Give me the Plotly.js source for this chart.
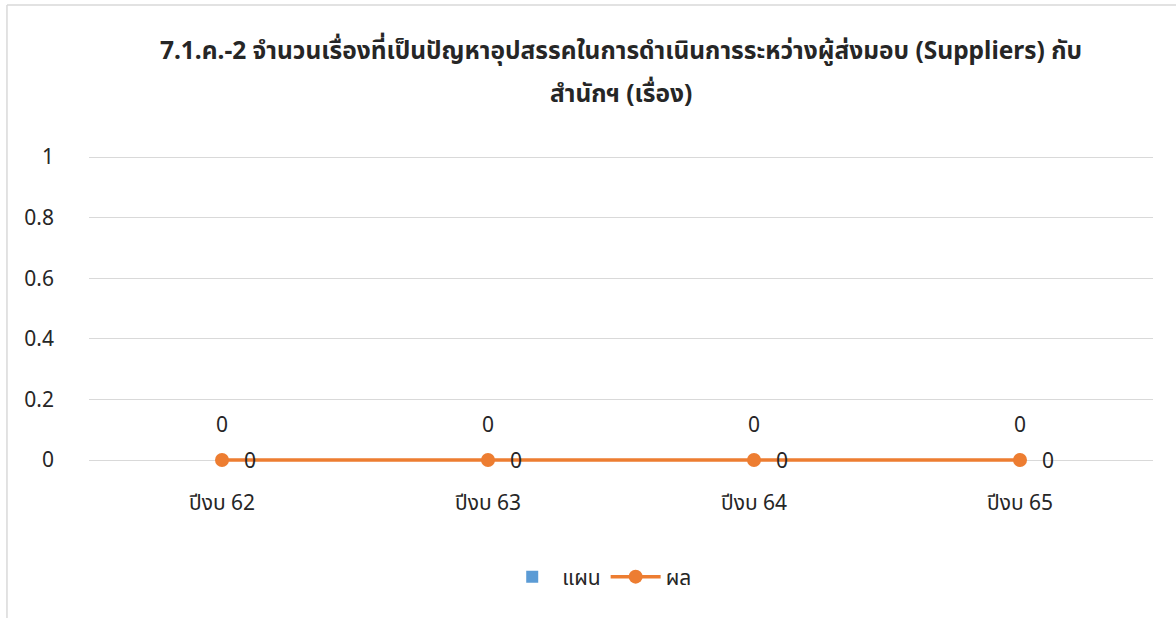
<!DOCTYPE html>
<html>
<head>
<meta charset="utf-8">
<script src="https://cdn.plot.ly/plotly-3.0.1.min.js"></script>
<style>html,body{margin:0;padding:0;background:#fff;}#chart{width:1176px;height:618px;}</style>
</head>
<body>
<div id="chart"></div>
<script>
const categories = ["ปีงบ 62", "ปีงบ 63", "ปีงบ 64", "ปีงบ 65"];
const planValues = [0, 0, 0, 0];
const resultValues = [0, 0, 0, 0];
const yTicks = [0, 0.2, 0.4, 0.6, 0.8, 1];
const yTickLabels = ["0", "0.2", "0.4", "0.6", "0.8", "1"];
const titleLine1 = "7.1.ค.-2 จำนวนเรื่องที่เป็นปัญหาอุปสรรคในการดำเนินการระหว่างผู้ส่งมอบ (Suppliers) กับ";
const titleLine2 = "สำนักฯ (เรื่อง)";

const FONT = "Noto Sans, Noto Sans Thai, sans-serif";
const txtColor = "#262626";
const FS = 21;
const TFS = 24.5;

// plot area: top 155px, bottom 466px (value 0 at 460px, value 1 at 157px)
const PLOT_BOTTOM = 466, PLOT_H = 311;
const py = p => (PLOT_BOTTOM - p) / PLOT_H;

const traces = [
  {
    type: "bar",
    name: "แผน",
    x: categories,
    y: planValues,
    marker: {color: "#5B9BD5"},
    width: 0.5
  },
  {
    type: "scatter",
    mode: "lines+markers",
    name: "ผล",
    x: categories,
    y: resultValues,
    line: {color: "#ED7D31", width: 3.5},
    marker: {color: "#ED7D31", size: 14},
    cliponaxis: false
  }
];

const annotations = [];
categories.forEach((c, i) => {
  annotations.push({x: c, y: planValues[i], text: String(planValues[i]), showarrow: false,
    yshift: 36, font: {family: FONT, size: FS, color: txtColor}});
  annotations.push({x: c, y: resultValues[i], text: String(resultValues[i]), showarrow: false,
    xshift: 28, font: {family: FONT, size: FS, color: txtColor}});
});
annotations.push({xref: "paper", yref: "paper", x: 0.5, y: py(92), yanchor: "middle",
  text: "<b>" + titleLine2 + "</b>", showarrow: false,
  font: {family: FONT, size: TFS, color: txtColor}});

const layout = {
  width: 1176,
  height: 618,
  margin: {l: 89, r: 23, t: 155, b: 618 - PLOT_BOTTOM},
  paper_bgcolor: "#ffffff",
  plot_bgcolor: "#ffffff",
  font: {family: FONT, size: FS, color: txtColor},
  title: {
    text: "<b>" + titleLine1 + "</b>",
    font: {family: FONT, size: TFS, color: txtColor},
    x: 0.5, xanchor: "center", xref: "paper",
    y: 1 - 50 / 618, yanchor: "middle", yref: "container"
  },
  xaxis: {
    type: "category",
    range: [-0.5, 3.5],
    showgrid: false,
    zeroline: false,
    showline: false,
    ticks: "",
    ticklabelstandoff: 22,
    tickfont: {family: FONT, size: FS, color: txtColor},
    fixedrange: true
  },
  yaxis: {
    range: [-6 / 303, 1 + 2 / 303],
    tickvals: yTicks,
    ticktext: yTickLabels,
    showgrid: true,
    gridcolor: "#d9d9d9",
    gridwidth: 1,
    zeroline: false,
    showline: false,
    ticks: "",
    ticklabelstandoff: 34,
    tickfont: {family: FONT, size: FS, color: txtColor},
    fixedrange: true
  },
  showlegend: true,
  legend: {
    orientation: "h",
    x: 0.48, xanchor: "center",
    y: py(577), yanchor: "middle",
    font: {family: FONT, size: FS, color: txtColor},
    itemwidth: 50,
    traceorder: "normal"
  },
  annotations: annotations,
  shapes: [
    {type: "line", xref: "paper", yref: "paper", x0: -0.0771, x1: -0.0771, y0: py(5), y1: -1, line: {color: "#d9d9d9", width: 1.5}},
    {type: "line", xref: "paper", yref: "paper", x0: -0.0771, x1: 1.1, y0: py(5), y1: py(5), line: {color: "#d9d9d9", width: 1.5}}
  ]
};

Plotly.newPlot("chart", traces, layout, {displayModeBar: false, staticPlot: true});
</script>
</body>
</html>
